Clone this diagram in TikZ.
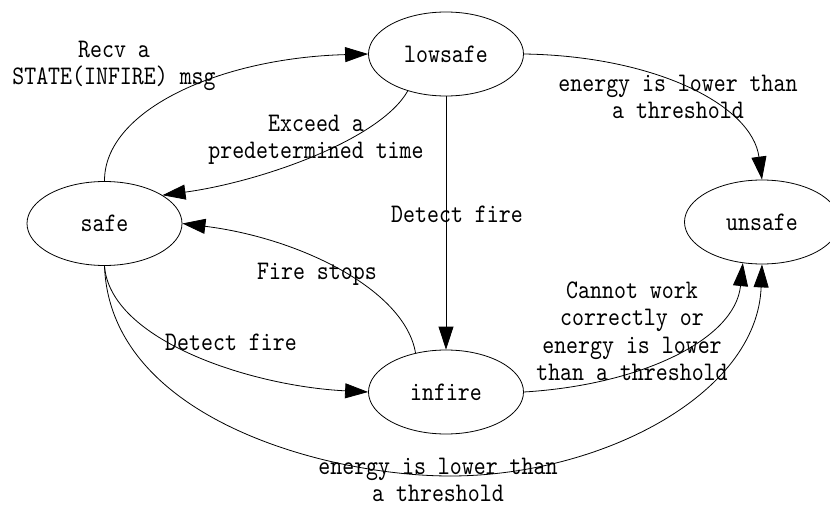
\documentclass[tikz,border=0pt]{standalone}
\usepackage{fontspec}
\setmonofont[FakeStretch=0.85]{lmmono10-regular.otf}
\usetikzlibrary{shapes.geometric, arrows.meta}

\tikzset{
  state/.style={ellipse, draw, line width=0.8pt, inner sep=0pt,
    minimum width=155pt, minimum height=84pt},
  trans/.style={-{Triangle[length=23pt,width=15pt]}, line width=0.8pt},
  lbl/.style={align=center, inner sep=0pt},
}

\begin{document}
\begin{tikzpicture}[x=1pt, y=-1pt, font=\ttfamily\fontsize{26.8}{27.5}\selectfont]
  \useasboundingbox (0,0) rectangle (830,508);

  % States
  \node[state] (lowsafe) at (446,54) {lowsafe};
  \node[state] (safe) at (104.5,223.5) {safe};
  \node[state] (infire) at (446,392) {infire};
  \node[state] (unsafe) at (762,222) {unsafe};

  % Transitions
  \draw[trans] (safe.north) .. controls (104,110) and (220,58) .. (lowsafe.west);
  \draw[trans] (lowsafe.224) .. controls (380,140) and (260,182) .. (safe.26);
  \draw[trans] (lowsafe.south) -- (infire.north);
  \draw[trans] (lowsafe.east) .. controls (655,56) and (752,105) .. (unsafe.north);
  \draw[trans] (infire.128) .. controls (405,290) and (300,238) .. (safe.east);
  \draw[trans] (safe.south) .. controls (110,340) and (250,386) .. (infire.west);
  \draw[trans] (infire.east) .. controls (640,385) and (735,340) .. (unsafe.245);
  \coordinate (low) at (450,476);
  \draw[line width=0.8pt] (safe.south) .. controls (110,420) and (330,476) .. (low);
  \draw[trans] (low) .. controls (600,476) and (757,395) .. (unsafe.south);

  % Labels
  \node[lbl] (lrecv) at (114,66) {Recv a\\STATE(INFIRE) msg};
  \node[lbl] (lexceed) at (316,140) {Exceed a\\predetermined time};
  \node[lbl] (ldetect) at (457,214) {Detect fire};
  \node[lbl] (lenergy) at (678,97) {energy is lower than\\a threshold};
  \node[lbl] (lstops) at (317,274) {Fire stops};
  \node[lbl] (ldetectb) at (231,342) {Detect fire};
  \node[lbl] (lcannot) at (632,331) {Cannot work\\correctly or\\energy is lower\\than a threshold};
  \node[lbl] (lenergyb) at (438,480) {energy is lower than\\a threshold};
\end{tikzpicture}
\end{document}
